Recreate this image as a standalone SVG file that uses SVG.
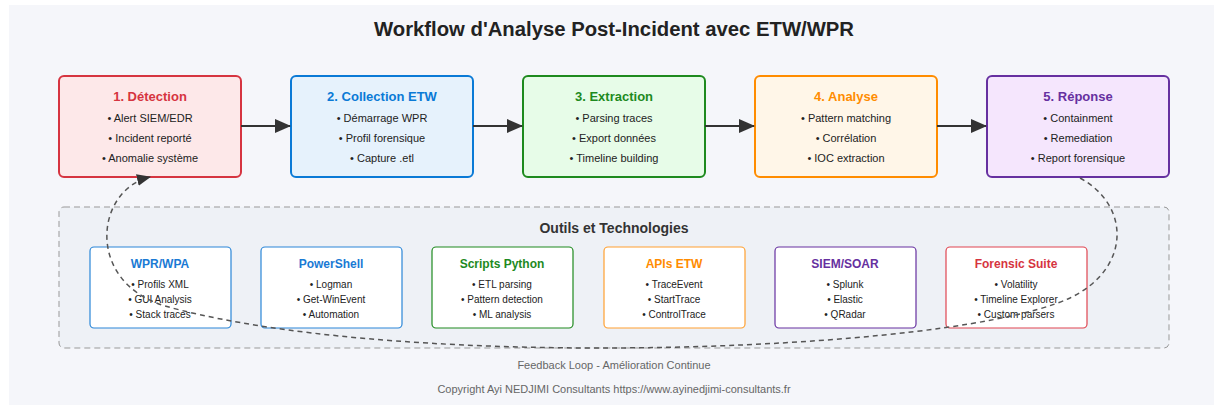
<svg xmlns="http://www.w3.org/2000/svg" width="1214" height="405" viewBox="0 0 1214 405">
  <defs>
    <marker id="arrow" markerWidth="16" markerHeight="14" refX="15" refY="7" orient="auto" markerUnits="userSpaceOnUse">
      <path d="M0,0 L16,7 L0,14 Z" fill="#333"/>
    </marker>
    <marker id="arrow-sm" markerWidth="14" markerHeight="12" refX="13" refY="6" orient="auto" markerUnits="userSpaceOnUse">
      <path d="M0,0 L14,6 L0,12 Z" fill="#333"/>
    </marker>
    <style>
      text { font-family: "Liberation Sans", Arial, sans-serif; text-anchor: middle; }
      .title { font-size: 20.3px; font-weight: bold; fill: #222; }
      .stage { stroke-width: 2; }
      .stitle { font-size: 13px; font-weight: bold; }
      .item { font-size: 11px; fill: #222; }
      .tool { fill: #fff; stroke-width: 1.2; }
      .ttitle { font-size: 12px; font-weight: bold; }
      .titem { font-size: 10px; fill: #222; }
      .flow { stroke: #333; stroke-width: 2; fill: none; }
      .loop { stroke: #555; stroke-width: 1.5; fill: none; stroke-dasharray: 5,4; }
      .note { font-size: 11px; fill: #666; }
    </style>
  </defs>

  <!-- page background -->
  <rect x="9" y="5" width="1205" height="400" fill="#f5f6fa"/>

  <text class="title" x="614" y="36">Workflow d'Analyse Post-Incident avec ETW/WPR</text>

  <!-- tools panel -->
  <g id="tools-panel">
    <rect x="59" y="207" width="1110" height="141" rx="5" fill="#eef1f6" stroke="#999" stroke-width="1" stroke-dasharray="6,4"/>
    <text x="614" y="233" style="font-size:14px;font-weight:bold;fill:#333">Outils et Technologies</text>
  </g>

  <!-- workflow stages -->
  <g id="stage-detection">
    <rect class="stage" x="59" y="76" width="182" height="101" rx="5" fill="#fde8e9" stroke="#d63440"/>
    <text class="stitle" x="150" y="101" fill="#d63440">1. Détection</text>
    <text class="item" x="150" y="122">• Alert SIEM/EDR</text>
    <text class="item" x="150" y="142">• Incident reporté</text>
    <text class="item" x="150" y="162">• Anomalie système</text>
  </g>
  <g id="stage-collection">
    <rect class="stage" x="291" y="76" width="182" height="101" rx="5" fill="#e6f2fc" stroke="#0a7ad6"/>
    <text class="stitle" x="382" y="101" fill="#0a7ad6">2. Collection ETW</text>
    <text class="item" x="382" y="122">• Démarrage WPR</text>
    <text class="item" x="382" y="142">• Profil forensique</text>
    <text class="item" x="382" y="162">• Capture .etl</text>
  </g>
  <g id="stage-extraction">
    <rect class="stage" x="523" y="76" width="182" height="101" rx="5" fill="#e7fce8" stroke="#1e8a1e"/>
    <text class="stitle" x="614" y="101" fill="#1e8a1e">3. Extraction</text>
    <text class="item" x="614" y="122">• Parsing traces</text>
    <text class="item" x="614" y="142">• Export données</text>
    <text class="item" x="614" y="162">• Timeline building</text>
  </g>
  <g id="stage-analyse">
    <rect class="stage" x="755" y="76" width="182" height="101" rx="5" fill="#fff6e8" stroke="#ff8c00"/>
    <text class="stitle" x="846" y="101" fill="#ff8c00">4. Analyse</text>
    <text class="item" x="846" y="122">• Pattern matching</text>
    <text class="item" x="846" y="142">• Corrélation</text>
    <text class="item" x="846" y="162">• IOC extraction</text>
  </g>
  <g id="stage-reponse">
    <rect class="stage" x="987" y="76" width="182" height="101" rx="5" fill="#f5e6fd" stroke="#6630a0"/>
    <text class="stitle" x="1078" y="101" fill="#6630a0">5. Réponse</text>
    <text class="item" x="1078" y="122">• Containment</text>
    <text class="item" x="1078" y="142">• Remediation</text>
    <text class="item" x="1078" y="162">• Report forensique</text>
  </g>

  <!-- tool cards -->
  <g id="tool-wpr">
    <rect class="tool" x="90" y="247" width="141" height="81" rx="4" stroke="#2a86d8"/>
    <text class="ttitle" x="160" y="268" fill="#1a7ad4">WPR/WPA</text>
    <text class="titem" x="160" y="288">• Profils XML</text>
    <text class="titem" x="160" y="303">• GUI Analysis</text>
    <text class="titem" x="160" y="318">• Stack traces</text>
  </g>
  <g id="tool-powershell">
    <rect class="tool" x="261" y="247" width="141" height="81" rx="4" stroke="#2a86d8"/>
    <text class="ttitle" x="331" y="268" fill="#1a7ad4">PowerShell</text>
    <text class="titem" x="331" y="288">• Logman</text>
    <text class="titem" x="331" y="303">• Get-WinEvent</text>
    <text class="titem" x="331" y="318">• Automation</text>
  </g>
  <g id="tool-python">
    <rect class="tool" x="432" y="247" width="141" height="81" rx="4" stroke="#1e8a1e"/>
    <text class="ttitle" x="502" y="268" fill="#1e8a1e">Scripts Python</text>
    <text class="titem" x="502" y="288">• ETL parsing</text>
    <text class="titem" x="502" y="303">• Pattern detection</text>
    <text class="titem" x="502" y="318">• ML analysis</text>
  </g>
  <g id="tool-apis">
    <rect class="tool" x="604" y="247" width="141" height="81" rx="4" stroke="#ffa030"/>
    <text class="ttitle" x="674" y="268" fill="#ff8c00">APIs ETW</text>
    <text class="titem" x="674" y="288">• TraceEvent</text>
    <text class="titem" x="674" y="303">• StartTrace</text>
    <text class="titem" x="674" y="318">• ControlTrace</text>
  </g>
  <g id="tool-siem">
    <rect class="tool" x="775" y="247" width="141" height="81" rx="4" stroke="#6630a0"/>
    <text class="ttitle" x="845" y="268" fill="#6630a0">SIEM/SOAR</text>
    <text class="titem" x="845" y="288">• Splunk</text>
    <text class="titem" x="845" y="303">• Elastic</text>
    <text class="titem" x="845" y="318">• QRadar</text>
  </g>
  <g id="tool-forensic">
    <rect class="tool" x="946" y="247" width="141" height="81" rx="4" stroke="#e04550"/>
    <text class="ttitle" x="1016" y="268" fill="#d63440">Forensic Suite</text>
    <text class="titem" x="1016" y="288">• Volatility</text>
    <text class="titem" x="1016" y="303">• Timeline Explorer</text>
    <text class="titem" x="1016" y="318">• Custom parsers</text>
  </g>

  <!-- connectors -->
  <g id="connectors">
    <line class="flow" x1="241" y1="126" x2="290" y2="126" marker-end="url(#arrow)"/>
    <line class="flow" x1="473" y1="126" x2="522" y2="126" marker-end="url(#arrow)"/>
    <line class="flow" x1="705" y1="126" x2="754" y2="126" marker-end="url(#arrow)"/>
    <line class="flow" x1="937" y1="126" x2="986" y2="126" marker-end="url(#arrow)"/>
    <path class="loop" d="M1080,178 C1130,205 1132,268 1070,298 C1000,330 800,348 600,348 C400,348 250,330 165,306 C85,282 95,190 150,177" marker-end="url(#arrow-sm)"/>
  </g>

  <text class="note" x="614" y="369">Feedback Loop - Amélioration Continue</text>
  <text class="note" x="614" y="393">Copyright Ayi NEDJIMI Consultants https://www.ayinedjimi-consultants.fr</text>
</svg>
